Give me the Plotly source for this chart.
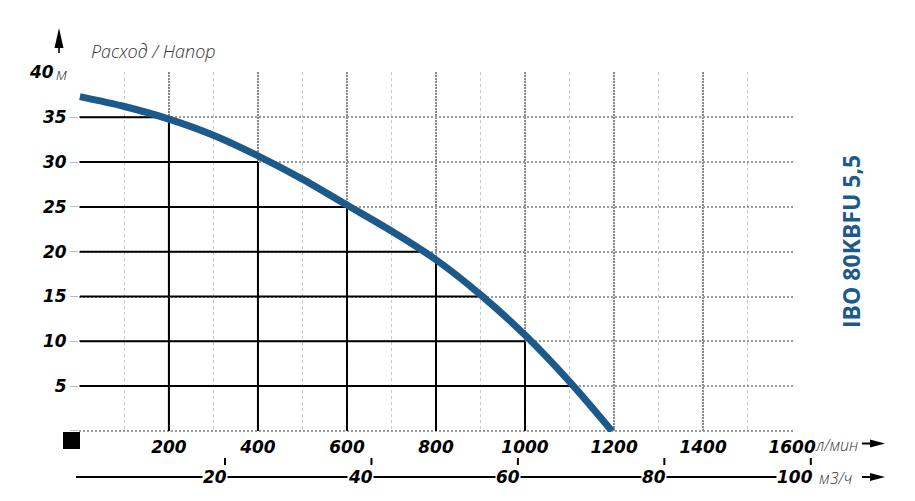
import plotly.graph_objects as go

# ---------------- data ----------------
flow_lpm = [0, 100, 200, 300, 400, 500, 600, 700, 800, 900, 1000, 1100, 1195]
head_m = [37.3, 36.2, 34.8, 33.0, 30.7, 28.1, 25.2, 22.3, 19.1, 15.2, 10.7, 5.5, 0.0]

ref_levels = [35, 30, 25, 20, 15, 10, 5]          # horizontal solid guides (m)
ref_level_ends = [200, 400, 600, 765, 900, 1000, 1108]  # where they stop (l/min)
ref_flows = [200, 400, 600, 800, 1000]            # vertical solid guides (l/min)
ref_flow_tops = [35, 30, 25, 19.1, 10]            # where they stop (m)

x_ticks = [0, 200, 400, 600, 800, 1000, 1200, 1400, 1600]
x_labels = ["", "200", "400", "600", "800", "1000", "1200", "1400", "1600"]
y_ticks = [0, 5, 10, 15, 20, 25, 30, 35]
y_labels = ["", "5", "10", "15", "20", "25", "30", "35"]
y_top = 40
m3h_ticks = [20, 40, 60, 80, 100]
m3h_labels = ["20", "40", "60", "80", "100"]
lpm_per_m3h = 16.45      # scale of the m3/h ruler as drawn (l/min per m3/h)
lpm_offset = -3.0

title_text = "Расход / Напор"
unit_lpm = "л/мин"
unit_m3h = "м3/ч"
unit_m = "м"
model_text = "IBO 80KBFU 5,5"

# ---------------- geometry helpers ----------------
W, H = 915, 501
ML, MR, MT, MB = 79, 122, 72, 69
PW, PH = W - ML - MR, H - MT - MB
X_RANGE = [-2, 1602]
Y_RANGE = [-0.12, 40.05]


def px(p):
    return (p - ML) / PW


def py(p):
    return (H - MB - p) / PH


def lpm_to_paper(q):
    return (q - X_RANGE[0]) / (X_RANGE[1] - X_RANGE[0])


def m3h_to_lpm(v):
    return v * lpm_per_m3h + lpm_offset


BLUE = "#1d5a8c"
NUMF = "DejaVu Sans"
TXTF = "Open Sans"

fig = go.Figure()

# solid guide lines
gx, gy = [], []
for lev, end in zip(ref_levels, ref_level_ends):
    gx += [0, end, None]
    gy += [lev, lev, None]
for fl, top in zip(ref_flows, ref_flow_tops):
    gx += [fl, fl, None]
    gy += [0, top, None]
fig.add_trace(go.Scatter(x=gx, y=gy, mode="lines", line=dict(color="black", width=2),
                         hoverinfo="skip", showlegend=False))

# curve
fig.add_trace(go.Scatter(x=flow_lpm, y=head_m, mode="lines",
                         line=dict(color=BLUE, width=7, shape="spline", smoothing=0.8),
                         hoverinfo="skip", showlegend=False))

bold_it = dict(family=NUMF, size=17, color="black", weight="bold", style="italic")
light_it = dict(family=TXTF, size=16, color="#333333", weight=300, style="italic")

fig.update_layout(
    width=W, height=H,
    margin=dict(l=ML, r=MR, t=MT, b=MB),
    paper_bgcolor="white", plot_bgcolor="white",
    xaxis=dict(range=X_RANGE, tickvals=x_ticks, ticktext=x_labels,
               showgrid=True, gridcolor="#8a8a8a", gridwidth=2, griddash="2px,1px",
               minor=dict(dtick=100, tick0=0, showgrid=True, gridcolor="#c8c8c8",
                          gridwidth=1, griddash="3px,3px"),
               zeroline=False, showline=False, ticks="",
               tickfont=bold_it, ticklabelstandoff=3),
    yaxis=dict(range=Y_RANGE, tickvals=y_ticks, ticktext=y_labels,
               showgrid=True, gridcolor="#9a9a9a", gridwidth=1.5, griddash="2px,2px",
               zeroline=False, showline=False, ticks="outside", ticklen=8,
               tickcolor="#bdbdbd", tickwidth=1,
               tickfont=bold_it, ticklabelstandoff=0),
)

shapes = []
# m3/h ruler baseline
shapes.append(dict(type="line", xref="paper", yref="paper", x0=px(76),
                   x1=lpm_to_paper(m3h_to_lpm(m3h_ticks[-1])) - 0.02,
                   y0=py(477), y1=py(477), line=dict(color="black", width=2.2)))
for v in m3h_ticks:
    xp = lpm_to_paper(m3h_to_lpm(v))
    shapes.append(dict(type="line", xref="paper", yref="paper", x0=xp, x1=xp,
                       y0=py(458), y1=py(465), line=dict(color="black", width=2)))
# black square
shapes.append(dict(type="rect", xref="paper", yref="paper", x0=px(63), x1=px(80),
                   y0=py(449), y1=py(432), fillcolor="black", line=dict(width=0)))
# up arrow
shapes.append(dict(type="path", xref="paper", yref="paper",
                   path=f"M {px(59)} {py(28)} L {px(63.5)} {py(48)} L {px(59.8)} {py(48)} "
                        f"L {px(59.8)} {py(53)} L {px(58.2)} {py(53)} L {px(58.2)} {py(48)} "
                        f"L {px(54.5)} {py(48)} Z",
                   fillcolor="black", line=dict(width=0)))
# right arrows
for yc in (443.5, 477):
    shapes.append(dict(type="path", xref="paper", yref="paper",
                       path=f"M {px(885)} {py(yc)} L {px(870)} {py(yc - 4)} L {px(870)} {py(yc - 0.9)} "
                            f"L {px(862)} {py(yc - 0.9)} L {px(862)} {py(yc + 0.9)} L {px(870)} {py(yc + 0.9)} "
                            f"L {px(870)} {py(yc + 4)} Z",
                       fillcolor="black", line=dict(width=0)))
fig.update_layout(shapes=shapes)

ann = []
for v, t in zip(m3h_ticks, m3h_labels):
    ann.append(dict(x=lpm_to_paper(m3h_to_lpm(v)), y=py(477), xref="paper", yref="paper", text=t,
                    showarrow=False, xanchor="right", xshift=3, font=bold_it, bgcolor="white",
                    borderpad=0, yanchor="middle"))
ann.append(dict(x=px(813), y=py(445), xref="paper", yref="paper", text=unit_lpm, showarrow=False,
                xanchor="left", yanchor="middle", font=light_it))
ann.append(dict(x=px(817), y=py(478), xref="paper", yref="paper", text=unit_m3h, showarrow=False,
                xanchor="left", yanchor="middle", font=light_it))
ann.append(dict(x=px(89), y=py(51), xref="paper", yref="paper", text=title_text, showarrow=False,
                xanchor="left", yanchor="middle",
                font=dict(family=TXTF, size=18, color="#333333", weight=300, style="italic")))
ann.append(dict(x=px(56), y=y_top, xref="paper", yref="y", text=str(y_top), showarrow=False,
                xanchor="right", yanchor="middle", font=bold_it))
ann.append(dict(x=px(54), y=y_top, xref="paper", yref="y", text=unit_m, showarrow=False,
                xanchor="left", yanchor="middle", yshift=-1,
                font=dict(family=TXTF, size=17, color="#333333", weight=300, style="italic")))
ann.append(dict(x=px(854), y=py(241), xref="paper", yref="paper", text=model_text, showarrow=False,
                textangle=-90, xshift=15,
                font=dict(family=TXTF, size=23, color=BLUE, weight="bold")))
fig.update_layout(annotations=ann)

fig.write_html("out.html")
